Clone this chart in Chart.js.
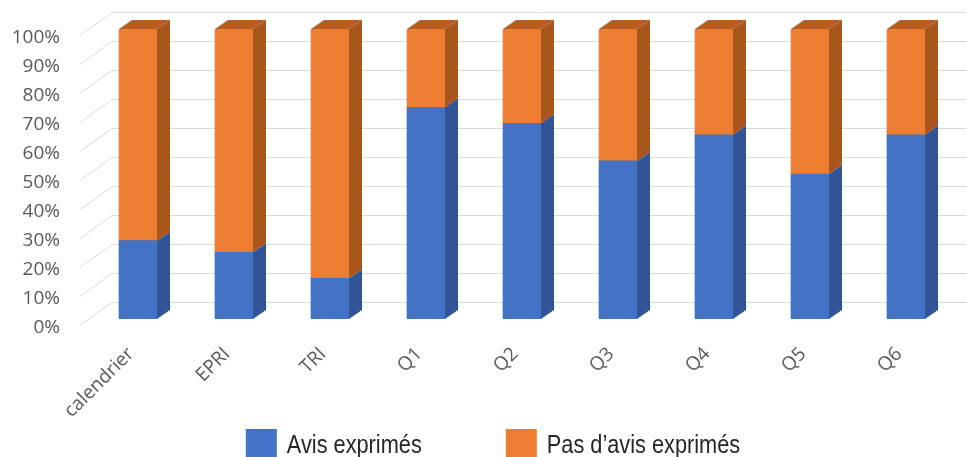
<!DOCTYPE html>
<html>
<head>
<meta charset="utf-8">
<script src="https://cdn.jsdelivr.net/npm/chart.js@4/dist/chart.umd.min.js"></script>
<style>
  html, body { margin: 0; padding: 0; background: #ffffff; }
  #wrap { width: 967px; height: 457px; overflow: hidden; }
</style>
</head>
<body>
<div id="wrap"><canvas id="c" width="967" height="457"></canvas></div>
<script>
// Categories and shares (in %) of each answer type
const categories = ['calendrier', 'EPRI', 'TRI', 'Q1', 'Q2', 'Q3', 'Q4', 'Q5', 'Q6'];
const avisExprimes = [27, 23, 14, 73, 67.5, 54.5, 63.5, 50, 63.5];
const pasAvisExprimes = [73, 77, 86, 27, 32.5, 45.5, 36.5, 50, 36.5];
const seriesNames = ['Avis exprimés', 'Pas d\u2019avis exprimés'];
const yTicks = [0, 10, 20, 30, 40, 50, 60, 70, 80, 90, 100];

const colors = {
  blue: '#4472C4', blueSide: '#2F5597',
  orange: '#ED7D31', orangeSide: '#A9551B', orangeTop: '#B65D1F',
  grid: '#D9D9D9', tick: '#595959', legend: '#262626'
};

// Depth of the extruded bars and of the back wall
const DEPTH = { dx: 13, dy: -9 };
const WALL = { left: 80, dx: 32, dy: -23, backShift: -17 };

// Back wall grid + floor/side diagonals, drawn from the y scale
const wallGrid = {
  id: 'wallGrid',
  beforeDatasetsDraw(chart) {
    const { ctx } = chart;
    const y = chart.scales.y;
    ctx.save();
    ctx.strokeStyle = colors.grid;
    ctx.lineWidth = 1;
    yTicks.forEach(v => {
      const yb = Math.round(y.getPixelForValue(v) + WALL.backShift) + 0.5;
      const xb = WALL.left + WALL.dx;
      ctx.beginPath();
      ctx.moveTo(WALL.left, yb - WALL.dy);
      ctx.lineTo(xb, yb);
      ctx.lineTo(chart.width, yb);
      ctx.stroke();
    });
    ctx.restore();
  }
};

// Side and top faces of each stacked bar segment
const bar3d = {
  id: 'bar3d',
  afterDatasetsDraw(chart) {
    const { ctx } = chart;
    const n = chart.data.datasets.length;
    ctx.save();
    chart.data.datasets.forEach((ds, di) => {
      const meta = chart.getDatasetMeta(di);
      meta.data.forEach(el => {
        const { x, y, base, width } = el.getProps(['x', 'y', 'base', 'width'], true);
        const left = x - width / 2, right = x + width / 2;
        ctx.fillStyle = ds.sideColor;
        ctx.beginPath();
        ctx.moveTo(right, y);
        ctx.lineTo(right + DEPTH.dx, y + DEPTH.dy);
        ctx.lineTo(right + DEPTH.dx, base + DEPTH.dy);
        ctx.lineTo(right, base);
        ctx.closePath();
        ctx.fill();
        if (di === n - 1) {
          ctx.fillStyle = ds.topColor;
          ctx.beginPath();
          ctx.moveTo(left, y);
          ctx.lineTo(left + DEPTH.dx, y + DEPTH.dy);
          ctx.lineTo(right + DEPTH.dx, y + DEPTH.dy);
          ctx.lineTo(right, y);
          ctx.closePath();
          ctx.fill();
        }
      });
    });
    ctx.restore();
  }
};

// Legend row under the axis labels (narrow lettering)
const bottomLegend = {
  id: 'bottomLegend',
  afterDraw(chart) {
    const { ctx } = chart;
    const font = '25px "Liberation Sans", Arial, sans-serif';
    const squeeze = 0.87;
    const box = 31, gap = 10, between = 84, centerX = 493, boxTop = 429, baseline = 453;
    ctx.save();
    ctx.font = font;
    const items = chart.data.datasets.map(ds => ({
      text: ds.label, color: ds.backgroundColor, w: ctx.measureText(ds.label).width * squeeze
    }));
    const total = items.reduce((s, it) => s + box + gap + it.w, 0) + between * (items.length - 1);
    let x = centerX - total / 2;
    items.forEach(it => {
      ctx.fillStyle = it.color;
      ctx.fillRect(x, boxTop, box, box);
      ctx.save();
      ctx.fillStyle = colors.legend;
      ctx.textBaseline = 'alphabetic';
      ctx.textAlign = 'left';
      ctx.translate(x + box + gap, baseline);
      ctx.scale(squeeze, 1);
      ctx.fillText(it.text, 0, 0);
      ctx.restore();
      x += box + gap + it.w + between;
    });
    ctx.restore();
  }
};

new Chart(document.getElementById('c'), {
  type: 'bar',
  data: {
    labels: categories,
    datasets: [
      { label: seriesNames[0], data: avisExprimes, backgroundColor: colors.blue,
        sideColor: colors.blueSide, topColor: colors.blueSide },
      { label: seriesNames[1], data: pasAvisExprimes, backgroundColor: colors.orange,
        sideColor: colors.orangeSide, topColor: colors.orangeTop }
    ]
  },
  options: {
    responsive: false,
    animation: false,
    devicePixelRatio: 1,
    layout: { padding: { top: 29, right: 13, left: 0, bottom: 0 } },
    datasets: { bar: { barThickness: 38, borderWidth: 0 } },
    plugins: { legend: { display: false }, tooltip: { enabled: false } },
    scales: {
      x: {
        stacked: true,
        grid: { display: false, drawTicks: false },
        border: { display: false },
        ticks: {
          color: colors.tick,
          font: { family: '"Open Sans", sans-serif', size: 19 },
          minRotation: 45, maxRotation: 45, padding: 24, labelOffset: -7, autoSkip: false
        },
        afterFit(scale) { scale.height = 457 - 319; scale.paddingLeft = 0; scale.paddingRight = 0; }
      },
      y: {
        stacked: true,
        min: 0, max: 100,
        grid: { display: false, drawTicks: false },
        border: { display: false },
        afterBuildTicks(scale) { scale.ticks = yTicks.map(v => ({ value: v })); },
        ticks: {
          color: colors.tick,
          font: { family: '"Open Sans", sans-serif', size: 19 },
          padding: 30, labelOffset: 9,
          callback: v => v + '%'
        },
        afterFit(scale) { scale.width = 90; scale.paddingTop = 0; scale.paddingBottom = 0; }
      }
    }
  },
  plugins: [wallGrid, bar3d, bottomLegend]
});
</script>
</body>
</html>
